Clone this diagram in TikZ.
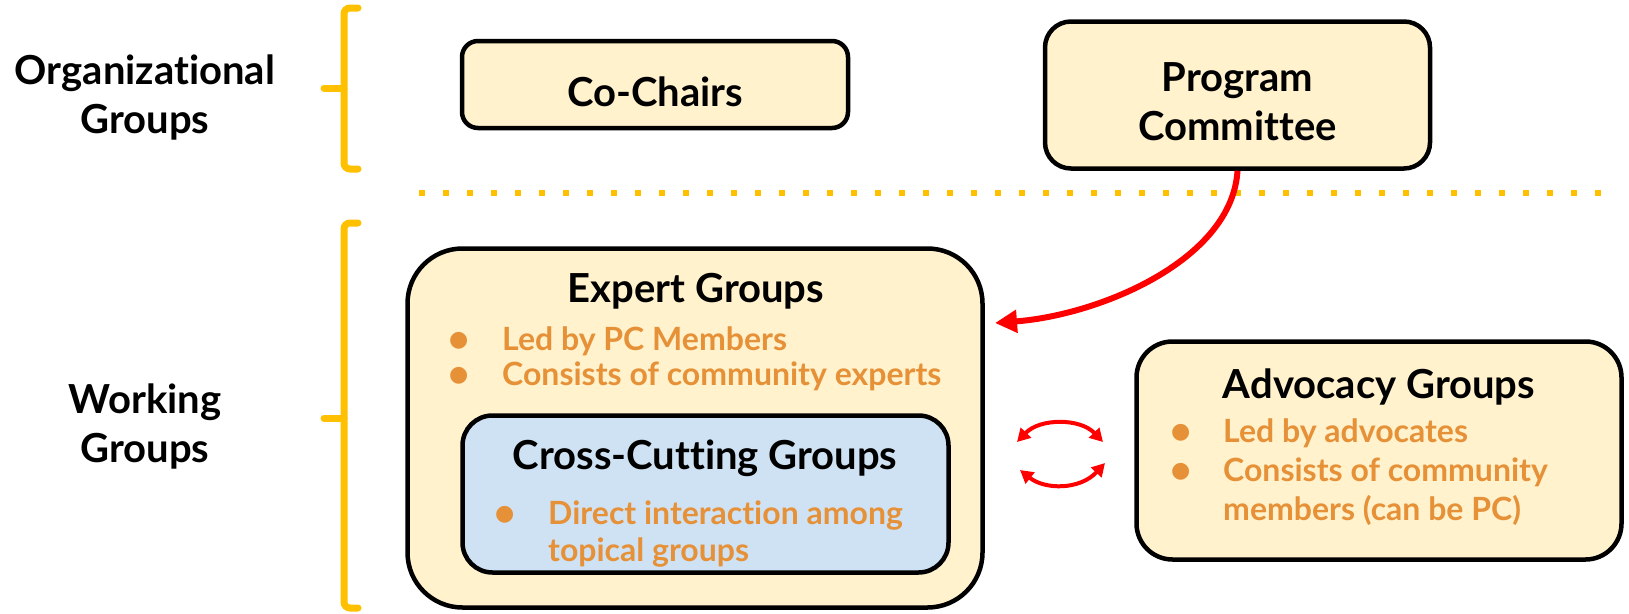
\documentclass[tikz,border=0pt]{standalone}
\usepackage{fontspec}
\setmainfont{Lato}[Ligatures=NoCommon]
\newfontfamily\dotfont{DejaVu Sans}
\usetikzlibrary{arrows.meta}

\definecolor{cream}{HTML}{FFF2CC}
\definecolor{paleblue}{HTML}{CFE2F3}
\definecolor{itemorange}{HTML}{E69138}
\definecolor{gold}{HTML}{FFC000}

\newcommand{\itemdot}{\raisebox{4pt}{\dotfont\fontsize{22}{22}\selectfont ●}}

\begin{document}
\begin{tikzpicture}[x=1pt, y=-1pt,
		every node/.style={inner sep=0pt, font=\bfseries\fontsize{40}{49}\selectfont},
		grp/.style={draw, line width=4.5pt, fill=cream, align=center},
		items/.style={text=itemorange, font=\bfseries\fontsize{32}{#1}\selectfont},
		brace/.style={gold, line width=7pt, rounded corners=6pt, line cap=round},
		link/.style={red, line width=6pt, -{Triangle[length=22pt, width=22pt]}},
		swap/.style={red, line width=4pt, {Triangle[length=13pt, width=14pt]}-{Triangle[length=13pt, width=14pt]}}]
	\useasboundingbox (0,0) rectangle (1629,613);

	% section labels and braces
	\node[align=center] (orglabel) at (145,97) {Organizational\\Groups};
	\node[align=center] (worklabel) at (145,426) {Working\\Groups};
	\draw[brace] (358,8) -- (344,8) -- (344,169) -- (358,169);
	\draw[brace] (344,88) -- (324,88);
	\draw[brace] (358,223) -- (344,223) -- (344,608) -- (358,608);
	\draw[brace] (344,418) -- (324,418);
	\draw[gold, line width=6pt, dash pattern=on 6pt off 18pt] (419,193) -- (1605,193);

	% organizational groups
	\node[grp, rounded corners=16pt, minimum width=386pt, minimum height=87pt] (chairs) at (655,84.5) {};
	\node (chairstitle) at (655,92) {Co-Chairs};
	\node[grp, rounded corners=26pt, minimum width=385pt, minimum height=147pt] (pc) at (1237.5,95) {};
	\node[align=center] (pctitle) at (1237.5,102) {Program\\Committee};

	% working groups
	\node[grp, rounded corners=55pt, minimum width=575pt, minimum height=359pt] (expert) at (695,428) {};
	\node[anchor=base] (experttitle) at (696,302) {Expert Groups};
	\node[items=35pt, anchor=base west] (expertlist) at (449,350) {\begin{tabular}[t]{@{}p{53pt}@{}l@{}}
		\itemdot & Led by PC Members\\
		\itemdot & Consists of community experts
	\end{tabular}};

	\node[grp, fill=paleblue, rounded corners=30pt, minimum width=486pt, minimum height=157pt] (cross) at (705.5,494) {};
	\node[anchor=base] (crosstitle) at (705,469) {Cross-Cutting Groups};
	\node[items=37pt, anchor=base west] (crosslist) at (495,524) {\begin{tabular}[t]{@{}p{53pt}@{}l@{}}
		\itemdot & Direct interaction among\\
		& topical groups
	\end{tabular}};

	\node[grp, rounded corners=36pt, minimum width=485pt, minimum height=218pt] (advocacy) at (1379,450.5) {};
	\node[anchor=base] (advocacytitle) at (1379,398) {Advocacy Groups};
	\node[items=39pt, anchor=base west] (advocacylist) at (1171,442) {\begin{tabular}[t]{@{}p{52pt}@{}l@{}}
		\itemdot & Led by advocates\\
		\itemdot & Consists of community\\
		& members (can be PC)
	\end{tabular}};

	% connectors
	\coordinate (tip) at (995,323);
	\draw[link] (pc.south) .. controls (1232,260) and (1100,315) .. (tip);
	\coordinate (swapa) at (1017,442);
	\coordinate (swapb) at (1103,442);
	\coordinate (swapc) at (1020,470);
	\coordinate (swapd) at (1105,463);
	\draw[swap] (swapa) .. controls (1040,418) and (1080,418) .. (swapb);
	\draw[swap] (swapc) .. controls (1045,490) and (1080,490) .. (swapd);
\end{tikzpicture}
\end{document}
